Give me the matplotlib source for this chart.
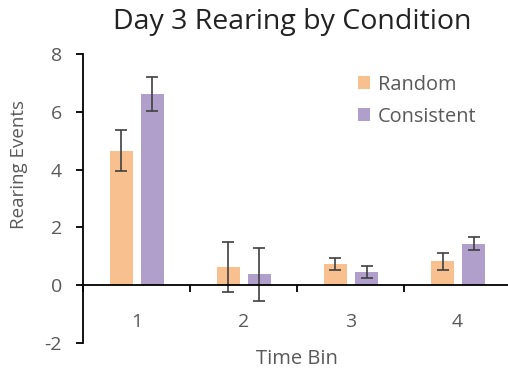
import matplotlib
matplotlib.use("Agg")
import matplotlib.pyplot as plt
import numpy as np

plt.rcParams['font.family'] = ['Open Sans', 'DejaVu Sans']
plt.rcParams['axes.unicode_minus'] = False

time_bins = ["1", "2", "3", "4"]
random_means = [4.65, 0.63, 0.73, 0.83]
random_err = [0.71, 0.88, 0.22, 0.30]
consistent_means = [6.61, 0.38, 0.46, 1.44]
consistent_err = [0.58, 0.92, 0.22, 0.23]

orange = "#F8C08E"
purple = "#B09FCA"
grey = "#595959"

fig = plt.figure(figsize=(5.08, 3.72), dpi=100)
ax = fig.add_axes([0.163, 0.078, 0.843, 0.777])

x = np.arange(len(time_bins))
w = 0.215
ekw = dict(ecolor="#404040", elinewidth=1.2, capsize=4, capthick=1.2)
ax.bar(x - 0.14, random_means, w, yerr=random_err, color=orange, label="Random", error_kw=ekw)
ax.bar(x + 0.15, consistent_means, w, yerr=consistent_err, color=purple, label="Consistent", error_kw=ekw)

ax.set_xlim(-0.5, 3.5)
ax.set_ylim(-2, 8)
ax.set_yticks([-2, 0, 2, 4, 6, 8])

ax.spines["top"].set_visible(False)
ax.spines["right"].set_visible(False)
ax.spines["bottom"].set_position(("data", 0))
ax.spines["bottom"].set_linewidth(1.3)
ax.spines["left"].set_linewidth(1.3)

ax.set_xticks(x)
ax.set_xticklabels(time_bins)
ax.set_xticks(np.arange(-0.5, 3.6, 1), minor=True)
ax.tick_params(axis="x", which="major", length=0, pad=20, labelsize=14, labelcolor=grey)
ax.tick_params(axis="x", which="minor", length=5, width=1.3, direction="out")
ax.tick_params(axis="y", length=5, width=1.3, labelsize=14, labelcolor=grey, pad=10)

ax.set_xlabel("Time Bin", fontsize=14.5, color=grey)
ax.xaxis.set_label_coords(0.5, -0.022)
ax.set_ylabel("Rearing Events", fontsize=13.5, color=grey)
ax.yaxis.set_label_coords(-0.128, 0.616)
ax.set_title("Day 3 Rearing by Condition", fontsize=20.5, color="#222222", pad=18, x=0.49)

ax.legend(loc="upper left", bbox_to_anchor=(0.6, 0.99), frameon=False, fontsize=14.4,
          labelcolor=grey, handlelength=0.6, handleheight=0.6, handletextpad=0.4, labelspacing=0.6)

fig.savefig("out.png", dpi=100)
